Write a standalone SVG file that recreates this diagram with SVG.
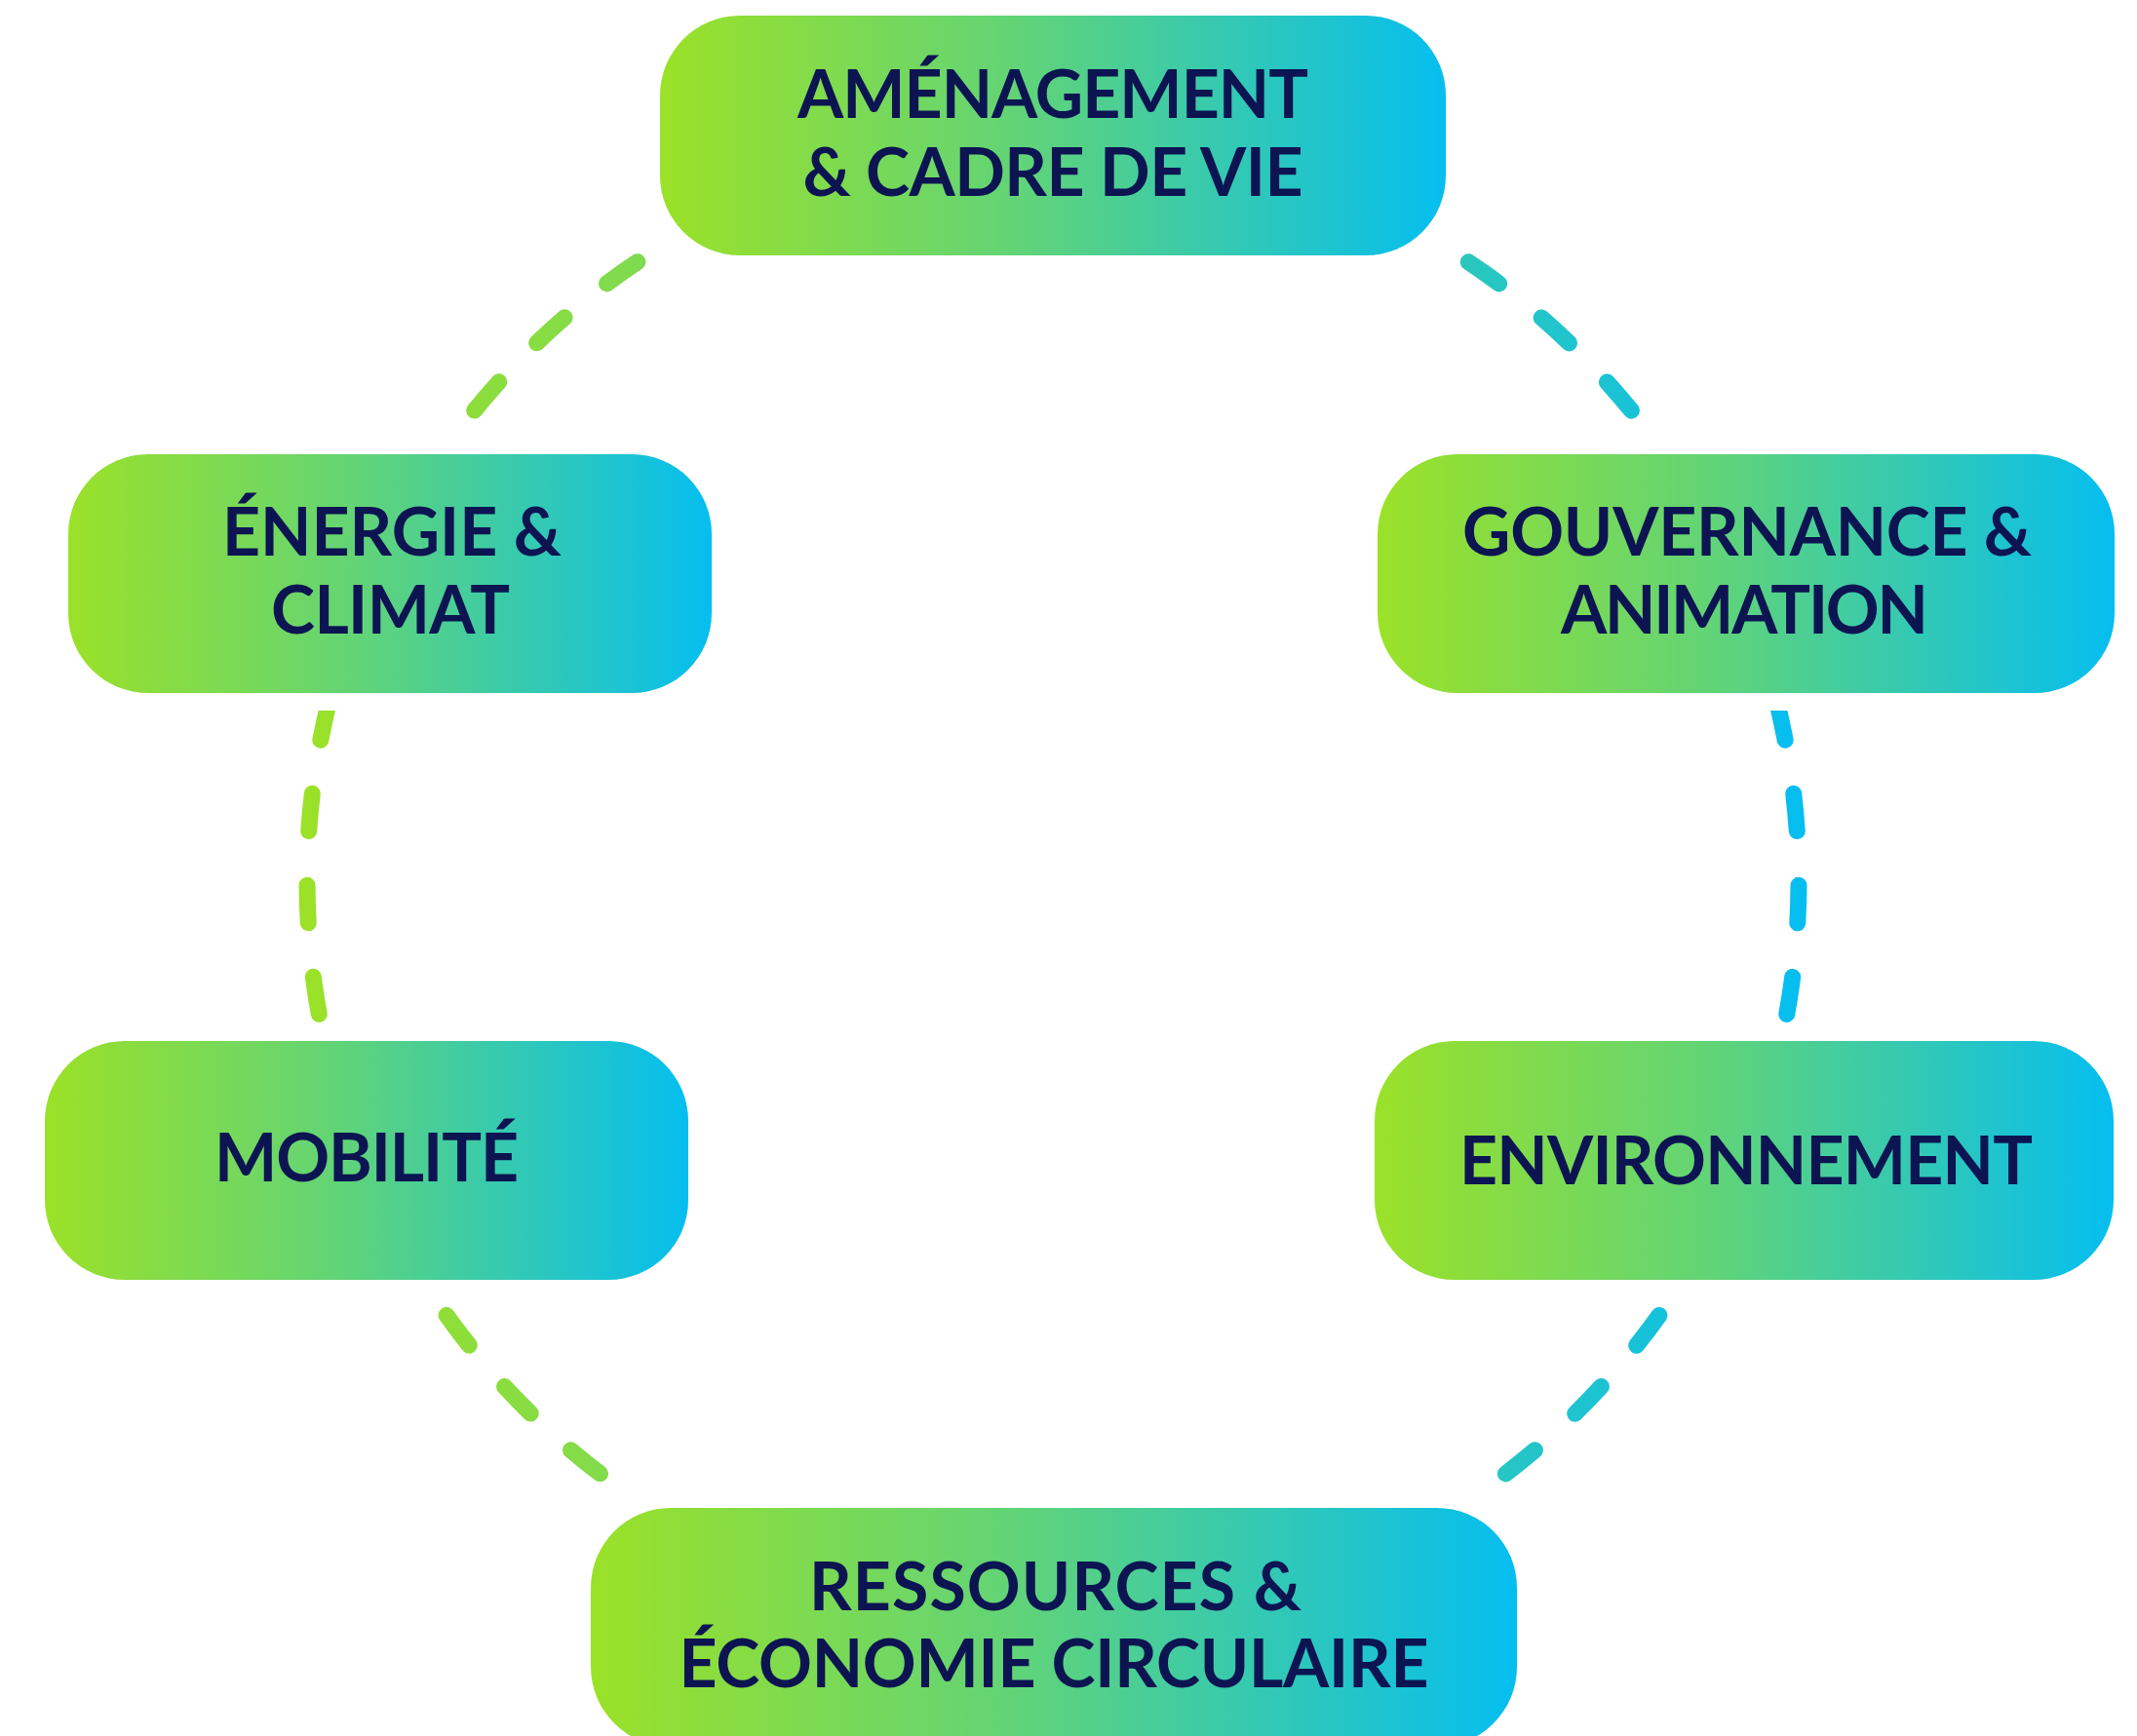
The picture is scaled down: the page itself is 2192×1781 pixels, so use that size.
<svg xmlns="http://www.w3.org/2000/svg" width="2192" height="1781" viewBox="0 0 2192 1781">
<defs>
<linearGradient id="boxGrad" x1="0" y1="0" x2="1" y2="0">
<stop offset="0" stop-color="#9BE128"/>
<stop offset="0.45" stop-color="#62D476"/>
<stop offset="1" stop-color="#05BEF0"/>
</linearGradient>
<linearGradient id="dashGrad" gradientUnits="userSpaceOnUse" x1="313" y1="0" x2="1847" y2="0">
<stop offset="0" stop-color="#9BE128"/>
<stop offset="0.45" stop-color="#62D476"/>
<stop offset="1" stop-color="#05BEF0"/>
</linearGradient>
<style>
.box{fill:url(#boxGrad);stroke:#ffffff;stroke-width:36;paint-order:stroke}
.lbl{font-family:Lato,"Liberation Sans",sans-serif;font-weight:700;font-size:68px;fill:#0D1452;text-anchor:middle}
.arc{fill:none;stroke:url(#dashGrad);stroke-width:17;stroke-linecap:round;stroke-dasharray:38.5 55.747}
</style>
</defs>
<rect width="2192" height="1781" fill="#ffffff"/>
<g id="connectors">
<path class="arc" style="stroke-dashoffset:19.25" d="M1080 139 A765 765 0 0 1 1771.62 577.07"/>
<path class="arc" style="stroke-dashoffset:34.89" d="M1771.62 577.07 A765 765 0 0 1 1790.29 1188.1"/>
<path class="arc" style="stroke-dashoffset:4.02" d="M1790.29 1188.1 A765 765 0 0 1 1080 1669"/>
<path class="arc" style="stroke-dashoffset:66.37" d="M1080 1669 A765 765 0 0 1 369.71 1188.1"/>
<path class="arc" style="stroke-dashoffset:34.49" d="M369.71 1188.1 A765 765 0 0 1 388.38 577.07"/>
<path class="arc" style="stroke-dashoffset:3.62" d="M388.38 577.07 A765 765 0 0 1 1080 139"/>
</g>
<g id="node-amenagement">
<rect class="box" x="677" y="16" width="806" height="246" rx="82"/>
<text class="lbl" x="1080" y="121" textLength="524" lengthAdjust="spacing">AMÉNAGEMENT</text>
<text class="lbl" x="1080" y="201" textLength="513" lengthAdjust="spacing">&amp; CADRE DE VIE</text>
</g>
<g id="node-energie">
<rect class="box" x="70" y="466" width="660" height="245" rx="82"/>
<text class="lbl" x="402" y="570" textLength="348" lengthAdjust="spacing">ÉNERGIE &amp;</text>
<text class="lbl" x="400.5" y="650" textLength="245" lengthAdjust="spacing">CLIMAT</text>
</g>
<g id="node-gouvernance">
<rect class="box" x="1413" y="466" width="756" height="245" rx="82"/>
<text class="lbl" x="1792" y="570" textLength="584" lengthAdjust="spacing">GOUVERNANCE &amp;</text>
<text class="lbl" x="1789.5" y="650" textLength="377" lengthAdjust="spacing">ANIMATION</text>
</g>
<g id="node-mobilite">
<rect class="box" x="46" y="1068" width="660" height="245" rx="82"/>
<text class="lbl" x="376" y="1212" textLength="312" lengthAdjust="spacing">MOBILITÉ</text>
</g>
<g id="node-environnement">
<rect class="box" x="1410" y="1068" width="758" height="245" rx="82"/>
<text class="lbl" x="1791" y="1215" textLength="588" lengthAdjust="spacing">ENVIRONNEMENT</text>
</g>
<g id="node-ressources">
<rect class="box" x="606" y="1547" width="950" height="245" rx="82"/>
<text class="lbl" x="1082.5" y="1652" textLength="505" lengthAdjust="spacing">RESSOURCES &amp;</text>
<text class="lbl" x="1081" y="1731" textLength="769" lengthAdjust="spacing">ÉCONOMIE CIRCULAIRE</text>
</g>
</svg>
